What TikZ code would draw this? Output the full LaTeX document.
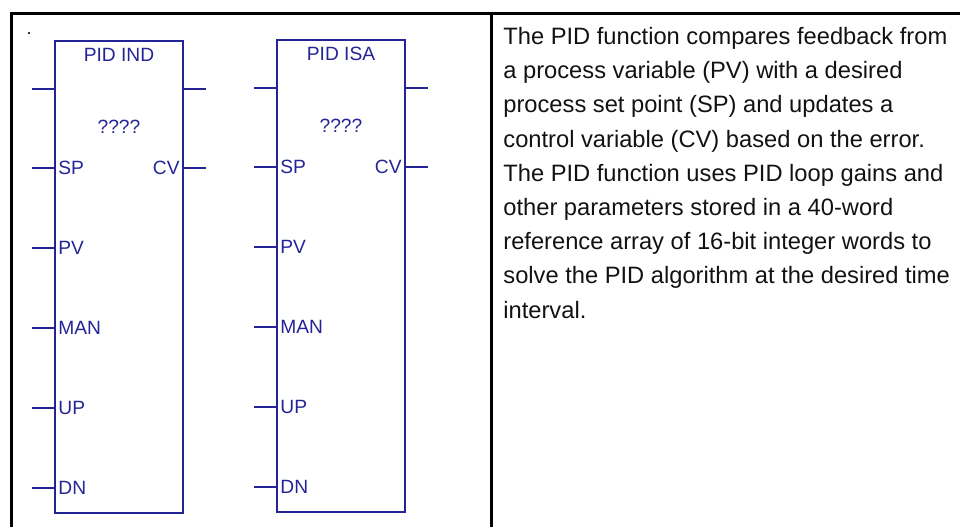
\documentclass[tikz,border=0pt]{standalone}
\usepackage{fontspec}
\setmainfont{Liberation Sans}
\usetikzlibrary{calc, positioning}
\definecolor{plcblue}{RGB}{36,36,150}

\tikzset{
  pidbox/.style={draw=plcblue, line width=1pt, minimum width=64pt,
                 minimum height=236pt, inner sep=0pt},
  pidtext/.style={text=plcblue, font=\fontsize{9.6}{10}\selectfont, inner sep=2pt},
  pinline/.style={draw=plcblue, line width=1pt},
  desc/.style={font=\fontsize{11.85}{14}\selectfont, inner sep=0pt, text=black!93},
}

\begin{document}
\begin{tikzpicture}[x=0.5pt, y=-0.5pt]
  \useasboundingbox (0,0) rectangle (960,527);

  % Cadre du tableau
  \draw[line width=1.5pt] (960,13) -| (11,527);
  \draw[line width=1.5pt] (491,13) -- (491,527);
  \fill[black!80] (28,32) rectangle (30,34);

  % Blocs PID
  \foreach \blk/\x/\y/\titre in {ind/54/40/PID IND, isa/276/39/PID ISA} {
    \node[pidbox, anchor=north west] (\blk) at (\x,\y) {};
    \node[pidtext] (\blk-titre) at ($(\blk.north)+(0,15)$) {\titre};
    \node[pidtext] (\blk-ref) at ($(\blk.north)+(0,87)$) {????};
    % entrees
    \foreach \dy/\lab in {49/, 128/SP, 208/PV, 288/MAN, 368/UP, 448/DN} {
      \coordinate (\blk-in\dy) at ($(\blk.north west)+(0,\dy)$);
      \draw[pinline] (\blk-in\dy) -- ++(-22,0);
      \node[pidtext, anchor=west] (\blk-lin\dy) at (\blk-in\dy) {\lab};
    }
    % sorties
    \foreach \dy/\lab in {49/, 128/CV} {
      \coordinate (\blk-out\dy) at ($(\blk.north east)+(0,\dy)$);
      \draw[pinline] (\blk-out\dy) -- ++(22,0);
      \node[pidtext, anchor=east] (\blk-lout\dy) at (\blk-out\dy) {\lab};
    }
  }

  % Description
  \foreach \ligne [count=\i] in {The PID function compares feedback from,
      a process variable (PV) with a desired,
      process set point (SP) and updates a,
      control variable (CV) based on the error.,
      The PID function uses PID loop gains and,
      other parameters stored in a 40-word,
      reference array of 16-bit integer words to,
      solve the PID algorithm at the desired time,
      interval.} {
    \node[desc, anchor=base west] (desc-\i) at (503, {44.4+(\i-1)*34.2}) {\ligne};
  }
\end{tikzpicture}
\end{document}
